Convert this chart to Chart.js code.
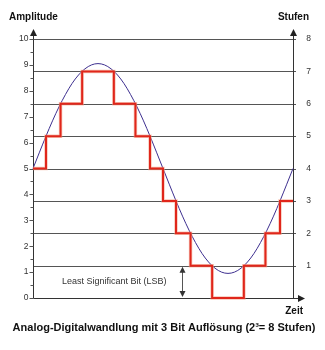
<!DOCTYPE html>
<html>
<head>
<meta charset="utf-8">
<script src="https://cdn.jsdelivr.net/npm/chart.js@4"></script>
<style>
  html, body { margin: 0; padding: 0; background: #fff; }
</style>
</head>
<body>
<canvas id="adc" width="325" height="350"></canvas>
<script>
// analog signal (time in % of one period, amplitude 0..10)
const sineTime = [0, 2.5, 5, 7.5, 10, 12.5, 15, 17.5, 20, 22.5, 25, 27.5, 30, 32.5, 35, 37.5, 40, 42.5, 45, 47.5,
                  50, 52.5, 55, 57.5, 60, 62.5, 65, 67.5, 70, 72.5, 75, 77.5, 80, 82.5, 85, 87.5, 90, 92.5, 95, 97.5, 100];
const sineValues = [5.00, 5.63, 6.25, 6.84, 7.38, 7.86, 8.28, 8.61, 8.85, 9.00, 9.05, 9.00, 8.85, 8.61, 8.28, 7.86, 7.38, 6.84, 6.25, 5.63,
                    5.00, 4.37, 3.75, 3.16, 2.62, 2.14, 1.72, 1.39, 1.15, 1.00, 0.95, 1.00, 1.15, 1.39, 1.72, 2.14, 2.62, 3.16, 3.75, 4.37, 5.00];

// quantised signal: time of each change and the step (Stufe) held from there
const stepTime = [0, 5.0, 10.6, 18.9, 31.1, 39.4, 45.0, 50.0, 55.0, 60.6, 68.9, 81.1, 89.4, 95.0, 100];
const stepLevels = [4, 5, 6, 7, 6, 5, 4, 3, 2, 1, 0, 1, 2, 3, 3];

// tick labels
const amplitudeTicks = [0, 1, 2, 3, 4, 5, 6, 7, 8, 9, 10];
const stufenTicks = [1, 2, 3, 4, 5, 6, 7, 8];

const FONT = '"Liberation Sans", Arial, sans-serif';

function arrow(ctx, x, y, dir, w, h) {
    ctx.beginPath();
    if (dir === 'up') {
        ctx.moveTo(x, y); ctx.lineTo(x - w / 2, y + h); ctx.lineTo(x + w / 2, y + h);
    } else if (dir === 'down') {
        ctx.moveTo(x, y); ctx.lineTo(x - w / 2, y - h); ctx.lineTo(x + w / 2, y - h);
    } else {
        ctx.moveTo(x, y); ctx.lineTo(x - h, y - w / 2); ctx.lineTo(x - h, y + w / 2);
    }
    ctx.closePath();
    ctx.fill();
}

// grid, axes, arrows and labels
const adcDecor = {
    id: 'adcDecor',
    beforeDatasetsDraw(chart) {
        const ctx = chart.ctx;
        const area = chart.chartArea;
        const y = chart.scales.y;
        const y2 = chart.scales.y2;
        ctx.save();

        // step lines
        ctx.strokeStyle = '#555';
        ctx.lineWidth = 1;
        stufenTicks.forEach(s => {
            const py = Math.round(y2.getPixelForValue(s)) + 0.5;
            ctx.beginPath();
            ctx.moveTo(area.left, py);
            ctx.lineTo(area.right + 3, py);
            ctx.stroke();
        });

        // axes
        ctx.strokeStyle = '#333';
        ctx.fillStyle = '#222';
        const lx = Math.round(area.left) + 0.5;
        const rx = Math.round(area.right) + 0.5;
        const by = Math.round(y.getPixelForValue(0)) + 0.5;
        ctx.beginPath();
        ctx.moveTo(lx, by); ctx.lineTo(lx, area.top - 4);
        ctx.moveTo(rx, by); ctx.lineTo(rx, area.top - 4);
        ctx.moveTo(lx, by); ctx.lineTo(area.right + 6, by);
        ctx.stroke();
        arrow(ctx, lx, area.top - 10, 'up', 7, 7);
        arrow(ctx, rx, area.top - 10, 'up', 7, 7);
        arrow(ctx, area.right + 12, by, 'right', 7, 7);

        // left ticks, major and minor
        ctx.strokeStyle = '#555';
        amplitudeTicks.forEach(v => {
            const py = Math.round(y.getPixelForValue(v)) + 0.5;
            ctx.beginPath(); ctx.moveTo(lx - 4, py); ctx.lineTo(lx, py); ctx.stroke();
            if (v < 10) {
                const pm = Math.round(y.getPixelForValue(v + 0.5)) + 0.5;
                ctx.beginPath(); ctx.moveTo(lx - 3, pm); ctx.lineTo(lx, pm); ctx.stroke();
            }
        });

        // tick labels
        ctx.fillStyle = '#333';
        ctx.font = '8.5px ' + FONT;
        ctx.textBaseline = 'middle';
        ctx.textAlign = 'right';
        amplitudeTicks.forEach(v => ctx.fillText(String(v), lx - 5, y.getPixelForValue(v)));
        ctx.textAlign = 'center';
        stufenTicks.forEach(s => ctx.fillText(String(s), rx + 15, y2.getPixelForValue(s)));

        ctx.restore();
    },
    afterDatasetsDraw(chart) {
        const ctx = chart.ctx;
        const area = chart.chartArea;
        const x = chart.scales.x;
        const y2 = chart.scales.y2;
        ctx.save();

        // LSB marker
        const ax = Math.round(x.getPixelForValue(57.3)) + 0.5;
        const top = y2.getPixelForValue(1);
        const bot = y2.getPixelForValue(0);
        ctx.strokeStyle = '#555';
        ctx.fillStyle = '#333';
        ctx.lineWidth = 1;
        ctx.beginPath(); ctx.moveTo(ax, top + 3); ctx.lineTo(ax, bot - 3); ctx.stroke();
        arrow(ctx, ax, top + 1, 'up', 6, 6);
        arrow(ctx, ax, bot - 1, 'down', 6, 6);
        ctx.fillStyle = '#333';
        ctx.font = '9px ' + FONT;
        ctx.textAlign = 'left';
        ctx.textBaseline = 'middle';
        ctx.fillText('Least Significant Bit (LSB)', area.left + 29, (top + bot) / 2);

        // axis titles
        ctx.fillStyle = '#111';
        ctx.font = 'bold 10px ' + FONT;
        ctx.textAlign = 'left';
        ctx.fillText('Amplitude', 9, 17);
        ctx.textAlign = 'right';
        ctx.fillText('Stufen', 309, 17);
        ctx.fillText('Zeit', 303, 311);

        // caption
        ctx.font = 'bold 11px ' + FONT;
        ctx.textAlign = 'center';
        ctx.fillText('Analog-Digitalwandlung mit 3 Bit Auflösung (2³= 8 Stufen)', 164, 328);

        ctx.restore();
    }
};

new Chart(document.getElementById('adc'), {
    type: 'line',
    data: {
        datasets: [{
            label: 'Analogsignal',
            data: sineTime.map((t, i) => ({ x: t, y: sineValues[i] })),
            yAxisID: 'y',
            borderColor: '#3d2f8f',
            borderWidth: 1,
            pointRadius: 0,
            tension: 0.4,
            cubicInterpolationMode: 'monotone',
            clip: false,
            order: 2
        }, {
            label: 'Stufen (Schatten)',
            data: stepTime.map((t, i) => ({ x: t, y: stepLevels[i] })),
            yAxisID: 'y2',
            stepped: true,
            borderColor: 'rgba(242, 160, 135, 0.6)',
            borderWidth: 3.5,
            pointRadius: 0,
            clip: false,
            order: 1
        }, {
            label: 'Stufen',
            data: stepTime.map((t, i) => ({ x: t, y: stepLevels[i] })),
            yAxisID: 'y2',
            stepped: true,
            borderColor: '#e0261b',
            borderWidth: 2,
            pointRadius: 0,
            clip: false,
            order: 0
        }]
    },
    options: {
        responsive: false,
        devicePixelRatio: 1,
        animation: false,
        layout: { padding: { left: 33, right: 32, top: 39, bottom: 52 } },
        plugins: { legend: { display: false }, tooltip: { enabled: false } },
        scales: {
            x: { type: 'linear', min: 0, max: 100, display: false },
            y: { type: 'linear', min: 0, max: 10, display: false },
            y2: { type: 'linear', min: 0, max: 8, display: false }
        }
    },
    plugins: [adcDecor]
});
</script>
</body>
</html>
